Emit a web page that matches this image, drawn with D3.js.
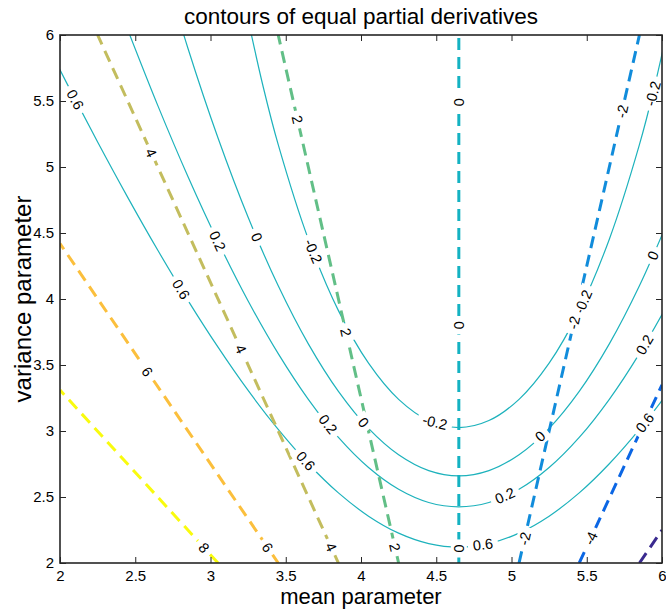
<!DOCTYPE html>
<html>
<head>
<meta charset="utf-8">
<script src="https://cdn.jsdelivr.net/npm/d3@7"></script>
<style>
  body { margin: 0; background: #fff; }
  text { font-family: "Liberation Sans", Arial, Helvetica, sans-serif; }
</style>
</head>
<body>
<div class="chart"></div>
<script>
// axis ticks
const xTicks = [2, 2.5, 3, 3.5, 4, 4.5, 5, 5.5, 6];
const yTicks = [2, 2.5, 3, 3.5, 4, 4.5, 5, 5.5, 6];

// solid contours (derivative wrt variance), points read as [mean, variance]
const solidLevels = [-0.2, 0, 0.2, 0.6];
const curveM02 = [[3.25, 6.116], [3.35, 5.608], [3.45, 5.169], [3.65, 4.453], [3.85, 3.912], [4.05, 3.514],
  [4.25, 3.240], [4.45, 3.079], [4.65, 3.026], [4.85, 3.079], [5.05, 3.240], [5.25, 3.514], [5.45, 3.912],
  [5.65, 4.453], [5.85, 5.169], [5.95, 5.608], [6.05, 6.116]];
const curve0 = [[2.65, 6.66], [2.85, 5.90], [3.05, 5.22], [3.25, 4.62], [3.45, 4.10], [3.65, 3.66], [3.85, 3.30],
  [4.05, 3.02], [4.25, 2.82], [4.45, 2.70], [4.65, 2.66], [4.85, 2.70], [5.05, 2.82], [5.25, 3.02], [5.45, 3.30],
  [5.65, 3.66], [5.85, 4.10], [6.05, 4.62]];
const curve02 = [[2.45, 6.040], [2.65, 5.465], [2.85, 4.928], [3.05, 4.434], [3.25, 3.985], [3.45, 3.586],
  [3.65, 3.240], [3.85, 2.951], [4.05, 2.723], [4.25, 2.558], [4.45, 2.458], [4.65, 2.425], [4.85, 2.458],
  [5.05, 2.558], [5.25, 2.723], [5.45, 2.951], [5.65, 3.240], [5.85, 3.586], [6.05, 3.985]];
const curve06 = [[1.85, 6.073], [2.05, 5.624], [2.25, 5.189], [2.45, 4.770], [2.65, 4.369], [2.85, 3.990],
  [3.05, 3.635], [3.25, 3.307], [3.45, 3.012], [3.65, 2.752], [3.85, 2.531], [4.05, 2.355], [4.25, 2.226],
  [4.45, 2.147], [4.65, 2.120], [4.85, 2.147], [5.05, 2.226], [5.25, 2.355], [5.45, 2.531], [5.65, 2.752],
  [5.85, 3.012], [6.05, 3.307]];
const solidCurves = [curveM02, curve0, curve02, curve06];

// dashed contours (derivative wrt mean): straight lines, start and end points
const dashLevels = [8, 6, 4, 2, 0, -2, -4, -6];
const dashStart = [[3.05, 2], [3.45, 2], [3.85, 2], [4.25, 2], [4.65, 2], [5.05, 2], [5.45, 2], [5.85, 2]];
const dashEnd = [[2, 3.31], [2, 4.42], [2.25, 6], [3.45, 6], [4.65, 6], [5.85, 6], [6, 3.35], [6, 2.25]];
const dashColors = ["#f9fb0e", "#fbbf3c", "#c3bd5e", "#62bf87", "#14b2c2", "#118cdb", "#0b66e4", "#3a2a8f"];

// inline labels [level, mean, variance]
const solidLabels = [[0.6, 2.10, 5.51], [0.6, 2.80, 4.07], [0.2, 3.03, 4.43], [0, 3.31, 4.47], [-0.2, 3.68, 4.36],
  [0.6, 3.63, 2.77], [0.2, 3.78, 3.05], [0, 4.01, 3.06], [-0.2, 4.49, 3.06], [0.6, 4.81, 2.14], [0.2, 4.96, 2.50],
  [0, 5.19, 2.96], [-0.2, 5.49, 3.97], [0.6, 5.89, 3.06], [0.2, 5.89, 3.65], [0, 5.94, 4.33], [-0.2, 5.96, 5.55]];
const dashLabels = [[2, 3.58, 5.36], [2, 3.91, 3.75], [2, 4.23, 2.12], [4, 2.61, 5.11], [4, 3.20, 3.62],
  [4, 3.80, 2.12], [6, 2.58, 3.45], [6, 3.38, 2.12], [8, 2.96, 2.12], [0, 4.65, 5.49], [0, 4.65, 3.80],
  [0, 4.65, 2.11], [-2, 5.74, 5.42], [-2, 5.42, 3.82], [-2, 5.11, 2.18], [-4, 5.54, 2.18]];

const width = 666, height = 612;
const margin = { top: 35, right: 4, bottom: 49, left: 60 };
const w = width - margin.left - margin.right;
const h = height - margin.top - margin.bottom;

const svg = d3.select(".chart").append("svg")
  .attr("width", width).attr("height", height);

const x = d3.scaleLinear().domain([2, 6]).range([0, w]);
const y = d3.scaleLinear().domain([2, 6]).range([h, 0]);

const g = svg.append("g").attr("transform", `translate(${margin.left},${margin.top})`);

g.append("clipPath").attr("id", "plotclip")
  .append("rect").attr("width", w).attr("height", h);

const lines = g.append("g").attr("clip-path", "url(#plotclip)");
const labels = g.append("g").attr("clip-path", "url(#plotclip)");

const line = d3.line().x(d => x(d[0])).y(d => y(d[1])).curve(d3.curveCatmullRom);

solidCurves.forEach((pts, i) => {
  lines.append("path").attr("d", line(pts))
    .attr("fill", "none").attr("stroke", "#1db2bc").attr("stroke-width", 1.2);
});

dashLevels.forEach((lv, i) => {
  lines.append("path").attr("d", d3.line()([[x(dashStart[i][0]), y(dashStart[i][1])], [x(dashEnd[i][0]), y(dashEnd[i][1])]]))
    .attr("fill", "none").attr("stroke", dashColors[i]).attr("stroke-width", 3)
    .attr("stroke-dasharray", "12,7");
});

// snap label onto polyline and take local direction
function placeOn(pixPts, px, py) {
  let best = null;
  for (let k = 0; k < pixPts.length - 1; k++) {
    const [x1, y1] = pixPts[k], [x2, y2] = pixPts[k + 1];
    const dx = x2 - x1, dy = y2 - y1;
    let t = ((px - x1) * dx + (py - y1) * dy) / (dx * dx + dy * dy);
    t = Math.max(0, Math.min(1, t));
    const qx = x1 + t * dx, qy = y1 + t * dy;
    const dist = Math.hypot(px - qx, py - qy);
    if (!best || dist < best.dist) best = { dist, qx, qy, ang: Math.atan2(dy, dx) * 180 / Math.PI };
  }
  return best;
}

function addLabel(txt, px, py, ang) {
  if (ang > 90) ang -= 180;
  if (ang <= -90) ang += 180;
  const lg = labels.append("g").attr("transform", `translate(${px},${py}) rotate(${ang})`);
  const t = lg.append("text").attr("text-anchor", "middle").attr("dy", "0.36em")
    .style("font-size", "14.5px").attr("fill", "#000").text(txt);
  const tw = t.node().getComputedTextLength();
  lg.insert("rect", "text").attr("x", -tw / 2 - 5).attr("y", -8)
    .attr("width", tw + 10).attr("height", 16).attr("fill", "#fff");
}

solidLabels.forEach(([lv, mx, my]) => {
  const idx = solidLevels.indexOf(lv);
  const pix = solidCurves[idx].map(d => [x(d[0]), y(d[1])]);
  const p = placeOn(pix, x(mx), y(my));
  addLabel(String(lv), p.qx, p.qy, p.ang);
});

dashLabels.forEach(([lv, mx, my]) => {
  const idx = dashLevels.indexOf(lv);
  const pix = [[x(dashStart[idx][0]), y(dashStart[idx][1])], [x(dashEnd[idx][0]), y(dashEnd[idx][1])]];
  const p = placeOn(pix, x(mx), y(my));
  addLabel(String(lv), p.qx, p.qy, p.ang);
});

// axes, MATLAB style ticks inside on all four sides
const axisColor = "#262626";
const fmt = d3.format("~g");
function styleAxis(sel) {
  sel.select(".domain").remove();
  sel.selectAll(".tick line").attr("stroke", axisColor).attr("stroke-width", 1);
  sel.selectAll(".tick text").attr("fill", "#000").style("font-size", "15px")
    .style("font-family", "'Liberation Sans', Arial, sans-serif");
}
g.append("g").attr("transform", `translate(0,${h})`)
  .call(d3.axisBottom(x).tickValues(xTicks).tickFormat(fmt).tickSizeInner(-6).tickSizeOuter(0).tickPadding(7))
  .call(styleAxis);
g.append("g")
  .call(d3.axisLeft(y).tickValues(yTicks).tickFormat(fmt).tickSizeInner(-6).tickSizeOuter(0).tickPadding(6))
  .call(styleAxis);
g.append("g")
  .call(d3.axisTop(x).tickValues(xTicks).tickFormat("").tickSizeInner(-6).tickSizeOuter(0))
  .call(styleAxis);
g.append("g").attr("transform", `translate(${w},0)`)
  .call(d3.axisRight(y).tickValues(yTicks).tickFormat("").tickSizeInner(-6).tickSizeOuter(0))
  .call(styleAxis);

g.append("rect").attr("width", w).attr("height", h)
  .attr("fill", "none").attr("stroke", axisColor).attr("stroke-width", 1.6);

// title and axis labels
svg.append("text").attr("x", margin.left + w / 2).attr("y", 24)
  .attr("text-anchor", "middle").style("font-size", "22.5px").attr("fill", "#000")
  .text("contours of equal partial derivatives");
svg.append("text").attr("x", margin.left + w / 2).attr("y", 604)
  .attr("text-anchor", "middle").style("font-size", "22px").attr("fill", "#000")
  .text("mean parameter");
svg.append("text").attr("transform", `translate(31,${margin.top + h / 2}) rotate(-90)`)
  .attr("text-anchor", "middle").style("font-size", "24px").attr("fill", "#000")
  .text("variance parameter");
</script>
</body>
</html>
